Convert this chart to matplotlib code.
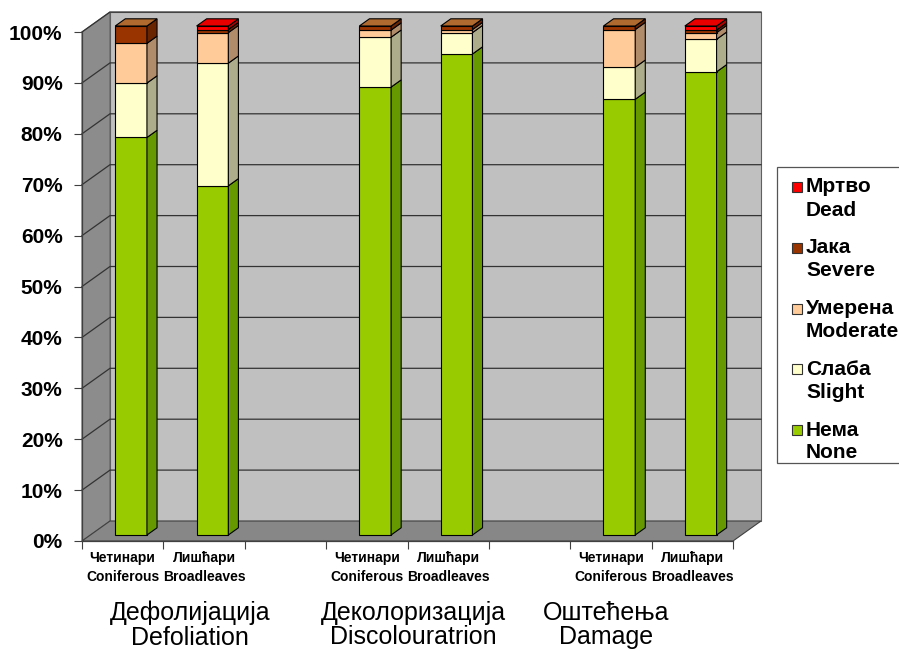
import matplotlib
matplotlib.use('Agg')
import matplotlib.pyplot as plt
from matplotlib.patches import Polygon, Rectangle

# data (percent of trees)
groups = ['Дефолијација\nDefoliation', 'Деколоризација\nDiscolouratrion', 'Оштећења\nDamage']
kinds = ['Четинари\nConiferous', 'Лишћари\nBroadleaves']
series = ['Нема\nNone', 'Слаба\nSlight', 'Умерена\nModerate', 'Јака\nSevere', 'Мртво\nDead']
none_vals = [78.1, 68.6, 88.0, 94.5, 85.6, 91.0]
slight_vals = [10.7, 24.1, 9.8, 4.2, 6.3, 6.4]
moderate_vals = [7.8, 6.0, 1.4, 0.6, 7.4, 1.3]
severe_vals = [3.4, 0.6, 0.8, 0.7, 0.7, 0.5]
dead_vals = [0.0, 0.7, 0.0, 0.0, 0.0, 0.8]
slots = [0, 1, 3, 4, 6, 7]

values = [none_vals, slight_vals, moderate_vals, severe_vals, dead_vals]
front_c = ['#99CC00', '#FFFFCC', '#FFCC99', '#993300', '#FF0000']
side_c = ['#669900', '#ADAD8C', '#B08C6B', '#6B2400', '#B00000']
top_c = ['#B8E040', '#FFFFE0', '#FFD8B0', '#B06A30', '#E80000']

narrow = ['Liberation Sans Narrow', 'Liberation Sans', 'DejaVu Sans']
plt.rcParams['font.family'] = ['Liberation Sans', 'DejaVu Sans']

fig = plt.figure(figsize=(8.99, 6.53), dpi=100)
W, H = 899, 653
x0, x1, y0, y1 = 82, 733, 541, 32
ax = fig.add_axes([x0 / W, (H - y0) / H, (x1 - x0) / W, (y0 - y1) / H])
ax.set_xlim(0, 8)
ax.set_ylim(0, 100)
ax.patch.set_visible(False)

dx = 28 / ((x1 - x0) / 8)
dy = 20 / ((y0 - y1) / 100)

# walls and floor
ax.add_patch(Polygon([(dx, dy), (8 + dx, dy), (8 + dx, 100 + dy), (dx, 100 + dy)],
                     closed=True, fc='#C0C0C0', ec='#606060', lw=0.8, clip_on=False, zorder=0))
ax.add_patch(Polygon([(0, 0), (dx, dy), (dx, 100 + dy), (0, 100)],
                     closed=True, fc='#8C8C8C', ec='#606060', lw=0.8, clip_on=False, zorder=0))
ax.add_patch(Polygon([(0, 0), (8, 0), (8 + dx, dy), (dx, dy)],
                     closed=True, fc='#878787', ec='#404040', lw=0.8, clip_on=False, zorder=0))
for v in range(10, 101, 10):
    ax.plot([0, dx, 8 + dx], [v, v + dy, v + dy], color='#333333', lw=0.9,
            clip_on=False, zorder=1)

# 3D-looking stacked bars
f0, f1 = 0.30, 0.66
bw = 0.39
for i, s in enumerate(slots):
    left = s + 0.5 + f0 * dx - bw / 2
    base = 0.0
    tops = [k for k in range(5) if values[k][i] > 0]
    for k in range(5):
        h = values[k][i]
        if h <= 0:
            continue
        b = base + f0 * dy
        ax.bar(left, h, width=bw, bottom=b, align='edge', color=front_c[k],
               edgecolor='black', linewidth=0.8, zorder=3, clip_on=False)
        ddx = (f1 - f0) * dx
        ddy = (f1 - f0) * dy
        r = left + bw
        ax.add_patch(Polygon([(r, b), (r + ddx, b + ddy), (r + ddx, b + h + ddy), (r, b + h)],
                             closed=True, fc=side_c[k], ec='black', lw=0.8, zorder=3,
                             clip_on=False))
        if k == tops[-1]:
            t = b + h
            ax.add_patch(Polygon([(left, t), (r, t), (r + ddx, t + ddy), (left + ddx, t + ddy)],
                                 closed=True, fc=top_c[k], ec='black', lw=0.8, zorder=3,
                                 clip_on=False))
        base += h

# axes
for sp in ['top', 'right']:
    ax.spines[sp].set_visible(False)
for sp in ['left', 'bottom']:
    ax.spines[sp].set_color('#404040')
    ax.spines[sp].set_linewidth(0.9)
ax.set_yticks(range(0, 101, 10))
ax.set_yticklabels([f'{v}%' for v in range(0, 101, 10)], fontsize=15, fontweight='bold')
ax.tick_params(axis='y', direction='out', length=6, color='#404040', pad=8)
ax.set_xticks(range(0, 9))
ax.set_xticklabels([])
ax.tick_params(axis='x', which='major', direction='out', length=6, color='#404040')
ax.set_xticks([s + 0.5 for s in slots], minor=True)
ax.set_xticklabels(kinds * 3, minor=True, fontsize=10, fontweight='bold', family=narrow,
                   linespacing=1.45)
ax.tick_params(axis='x', which='minor', length=0, pad=7)

# group titles
for gx, g in zip([190, 413, 606], groups):
    fig.text(gx / W, 1 - 625 / H, g, ha='center', va='center', fontsize=18,
             linespacing=1.05)

# legend (drawn by hand so markers sit on the first line)
fig.patches.append(Rectangle((777 / W, 1 - 463 / H), 130 / W, 296 / H, transform=fig.transFigure,
                             fc='white', ec='#555555', lw=0.9, zorder=5))
for j, k in enumerate(range(4, -1, -1)):
    yl = 187 + j * 60.75
    fig.patches.append(Rectangle((792 / W, 1 - (yl + 5) / H), 10 / W, 10 / H,
                                 transform=fig.transFigure, fc=front_c[k], ec='#333333',
                                 lw=0.8, zorder=6))
    l1, l2 = series[k].split('\n')
    fig.text(806 / W, 1 - yl / H, l1, ha='left', va='center', fontsize=15,
             fontweight='bold', zorder=6)
    fig.text(806 / W, 1 - (yl + 23) / H, l2, ha='left', va='center', fontsize=15,
             fontweight='bold', zorder=6)

fig.savefig('out.png', dpi=100)
